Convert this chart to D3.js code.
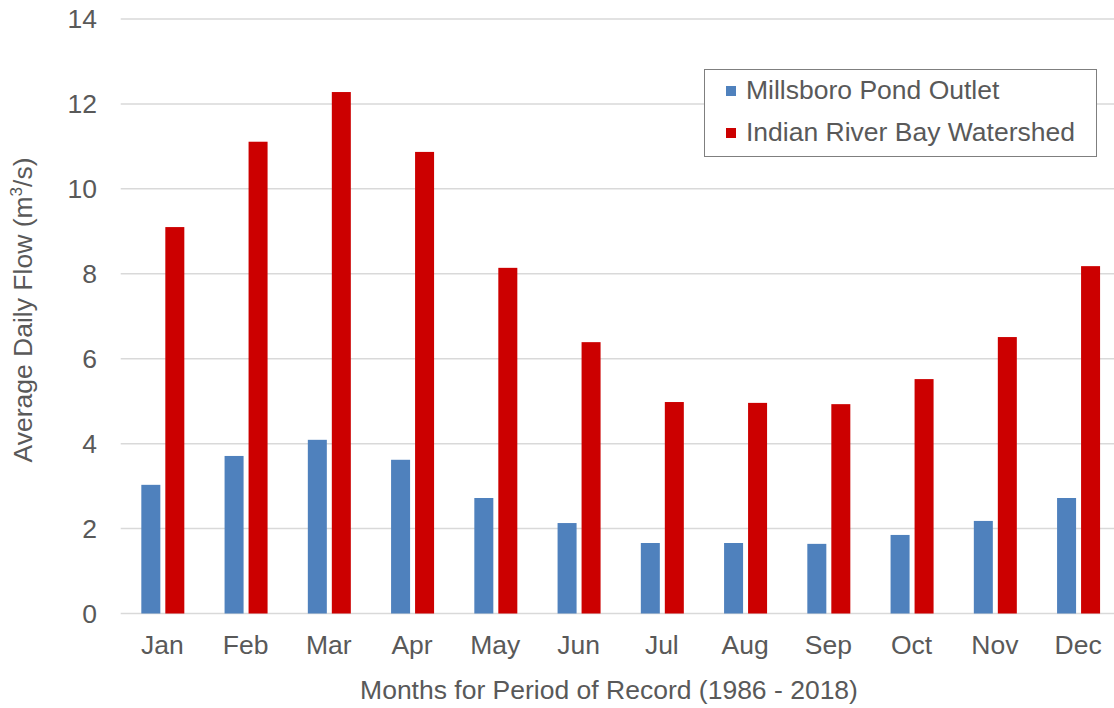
<!DOCTYPE html>
<html>
<head>
<meta charset="utf-8">
<script src="https://cdn.jsdelivr.net/npm/d3@7"></script>
<style>
  body { margin: 0; background: #fff; }
  text { font-family: "Liberation Sans", Arial, sans-serif; fill: #595959; }
</style>
</head>
<body>
<div id="chart"></div>
<script>
// data
var months = ["Jan","Feb","Mar","Apr","May","Jun","Jul","Aug","Sep","Oct","Nov","Dec"];
var seriesNames = ["Millsboro Pond Outlet","Indian River Bay Watershed"];
var millsboro = [3.03, 3.71, 4.09, 3.62, 2.72, 2.13, 1.66, 1.66, 1.64, 1.85, 2.18, 2.72];
var indianRiver = [9.10, 11.11, 12.28, 10.87, 8.14, 6.39, 4.98, 4.96, 4.93, 5.52, 6.51, 8.18];
var yTicks = [0, 2, 4, 6, 8, 10, 12, 14];
var colors = ["#4f81bd", "#cc0000"];

var width = 1114, height = 708;
// plot area runs a little past the right edge of the picture (cropped)
var plotLeft = 120.7, plotRight = 1119.7, plotTop = 19, plotBottom = 613.5;
var fontSize = "26.5px";

var svg = d3.select("#chart").append("svg")
  .attr("width", width).attr("height", height);

var y = d3.scaleLinear().domain([0, 14]).range([plotBottom, plotTop]);

var x0 = d3.scaleBand().domain(months).range([plotLeft, plotRight]).padding(0);
var groupW = 43;
var x1 = d3.scaleBand().domain(seriesNames).range([0, groupW]).paddingInner(0.208);

// gridlines
svg.append("g").selectAll("line")
  .data(yTicks)
  .enter().append("line")
  .attr("x1", plotLeft).attr("x2", plotRight)
  .attr("y1", function(d){ return y(d); })
  .attr("y2", function(d){ return y(d); })
  .style("stroke", "#d9d9d9")
  .style("stroke-width", 1.5);

// y tick labels
svg.append("g").selectAll("text")
  .data(yTicks)
  .enter().append("text")
  .attr("x", 97)
  .attr("y", function(d){ return y(d); })
  .attr("dy", "0.35em")
  .attr("text-anchor", "end")
  .style("font-size", fontSize)
  .text(function(d){ return d; });

// bars
var allSeries = [millsboro, indianRiver];
var groups = svg.append("g").selectAll("g")
  .data(months)
  .enter().append("g")
  .attr("transform", function(d){
    return "translate(" + (x0(d) + (x0.bandwidth() - groupW) / 2 + 0.5) + ",0)";
  });

groups.selectAll("rect")
  .data(function(m, i){
    return seriesNames.map(function(s, j){ return {name: s, value: allSeries[j][i], idx: j}; });
  })
  .enter().append("rect")
  .attr("x", function(d){ return x1(d.name); })
  .attr("width", x1.bandwidth())
  .attr("y", function(d){ return y(d.value); })
  .attr("height", function(d){ return y(0) - y(d.value); })
  .style("fill", function(d){ return colors[d.idx]; });

// x tick labels
svg.append("g").selectAll("text")
  .data(months)
  .enter().append("text")
  .attr("x", function(d){ return x0(d) + x0.bandwidth() / 2; })
  .attr("y", 654)
  .attr("text-anchor", "middle")
  .style("font-size", fontSize)
  .text(function(d){ return d; });

// axis titles
svg.append("text")
  .attr("x", 609).attr("y", 699)
  .attr("text-anchor", "middle")
  .style("font-size", fontSize)
  .text("Months for Period of Record (1986 - 2018)");

var yTitle = svg.append("text")
  .attr("transform", "translate(32,310) rotate(-90)")
  .attr("text-anchor", "middle")
  .style("font-size", fontSize);
yTitle.append("tspan").text("Average Daily Flow (m");
yTitle.append("tspan").attr("dy", -10).style("font-size", "17px").text("3");
yTitle.append("tspan").attr("dy", 10).text("/s)");

// legend
var legend = svg.append("g");
legend.append("rect")
  .attr("x", 704.5).attr("y", 69.5)
  .attr("width", 392).attr("height", 87)
  .style("fill", "#fff")
  .style("stroke", "#7f7f7f")
  .style("stroke-width", 1);

var items = legend.selectAll("g")
  .data(seriesNames)
  .enter().append("g")
  .attr("transform", function(d, i){ return "translate(726," + (86 + i * 42) + ")"; });

items.append("rect")
  .attr("width", 10).attr("height", 10)
  .style("fill", function(d, i){ return colors[i]; });

items.append("text")
  .attr("x", 20).attr("y", 4)
  .attr("dy", "0.35em")
  .style("font-size", fontSize)
  .text(function(d){ return d; });
</script>
</body>
</html>
